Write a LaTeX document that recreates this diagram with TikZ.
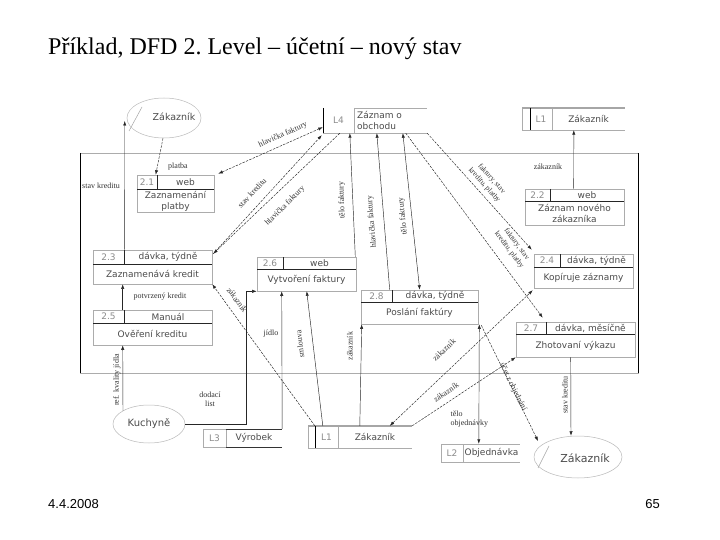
\documentclass[tikz,border=0pt]{standalone}
\usepackage{fontspec}
\setmainfont{Liberation Serif}
\newfontfamily\boxfont{DejaVu Sans}
\newfontfamily\footfont{Liberation Sans}
\usetikzlibrary{arrows.meta,calc,fit,shapes.geometric}
\tikzset{
  pbox/.style={draw=gray!65, line width=0.6pt, inner sep=0pt},
  hdline/.style={draw=black!85, line width=0.6pt},
  ptxt/.style={font=\boxfont\fontsize{9}{11}\selectfont, text=black!70, inner sep=0pt, align=center},
  ntxt/.style={font=\boxfont\fontsize{9}{11}\selectfont, text=gray!90, inner sep=0pt},
  lbl/.style={font=\fontsize{8}{9}\selectfont, text=black!80, inner sep=0.5pt, align=center},
  flow/.style={draw=black!85, line width=0.45pt, ->},
  dflow/.style={flow, dash pattern=on 2.5pt off 1.2pt},
  ent/.style={draw=gray!55, line width=0.5pt, ellipse, inner sep=0pt},
  gline/.style={draw=gray!65, line width=0.6pt},
  bar/.style={draw=black, line width=1pt},
}
\newcommand\proc[9]{%
  \node[pbox, fit={(#2,#3) (#4,#6)}] (#1) {};
  \draw[hdline] (#2,#5) -- (#4,#5);
  \draw[hdline] (#7,#3) -- (#7,#5);
  \node[ntxt] (#1num) at ({(#2+#7)/2},{(#3+#5)/2}) {#8};
  \node[ptxt] (#1loc) at ({(#7+#4)/2},{(#3+#5)/2}) {#9};
}
\begin{document}
\begin{tikzpicture}[x=1pt,y=-1pt,>={Latex[length=4.5pt,width=3.2pt]}]
\useasboundingbox (0,0) rectangle (720,540);
\fill[white] (0,0) rectangle (720,540);

% title and footer
\node[anchor=base west, inner sep=0pt, font=\fontsize{24}{28}\selectfont] (title) at (48,55) {Příklad, DFD 2.\ Level – účetní – nový stav};
\node[anchor=base west, inner sep=0pt, font=\footfont\fontsize{13}{15}\selectfont] (fdate) at (48,508) {4.4.2008};
\node[anchor=base east, inner sep=0pt, font=\footfont\fontsize{13}{15}\selectfont] (fpage) at (660,508) {65};

% boundary
\draw[gline] (80,153) rectangle (638,373);
\draw[bar] (80,153) -- (80,373);
\draw[bar] (638,153) -- (638,373);

% processes
\proc{p21}{137}{175}{214}{189}{212}{157}{2.1}{web}
\node[ptxt] (p21b) at (175.5,201) {Zaznamenání\\platby};
\proc{p22}{525}{189}{624}{201}{225}{550}{2.2}{web}
\node[ptxt] (p22b) at (574.5,213) {Záznam nového\\zákazníka};
\proc{p23}{93}{250}{212}{264}{284}{124}{2.3}{dávka, týdně}
\node[ptxt] (p23b) at (152.5,274) {Zaznamenává kredit};
\proc{p24}{534}{254}{633}{267}{288}{560}{2.4}{dávka, týdně}
\node[ptxt] (p24b) at (583.5,277.5) {Kopíruje záznamy};
\proc{p25}{93}{310}{212}{323}{345}{124}{2.5}{Manuál}
\node[ptxt] (p25b) at (152.5,334) {Ověření kreditu};
\proc{p26}{257}{257}{356}{269}{291}{283}{2.6}{web}
\node[ptxt] (p26b) at (306.5,280) {Vytvoření faktury};
\proc{p27}{516}{322}{635}{334}{357}{546}{2.7}{dávka, měsíčně}
\node[ptxt] (p27b) at (575.5,345.5) {Zhotovaní výkazu};
\proc{p28}{361}{290}{478}{302}{324}{392}{2.8}{dávka, týdně}
\node[ptxt] (p28b) at (419.5,313) {Poslání faktúry};

% stores
\node[fit={(323,108) (427,133)}, inner sep=0pt] (s4) {};
\draw[gline] (354,108) -- (427,108);
\draw[gline] (323,133) -- (427,133);
\draw[gline] (354,108) -- (354,133);
\draw[bar] (323,108) -- (323,133);
\node[ntxt] (s4num) at (338.5,120.5) {L4};
\node[ptxt, anchor=west, align=left] (s4txt) at (357,120.5) {Záznam o\\obchodu};

\node[fit={(522,108) (625,130)}, inner sep=0pt] (s1a) {};
\draw[gline] (522,108) -- (522,130);
\draw[gline] (552,108) -- (552,130);
\draw[draw=gray!70, line width=1.2pt] (522,108) -- (625,108);
\draw[gline] (522,130) -- (625,130);
\draw[bar] (530,108) -- (530,130);
\node[ntxt] (s1anum) at (541,119) {L1};
\node[ptxt] (s1atxt) at (588.5,119) {Zákazník};

\node[fit={(308,426) (412,448)}, inner sep=0pt] (s1b) {};
\draw[gline] (308,426) -- (308,448);
\draw[gline] (338,426) -- (338,448);
\draw[draw=gray!70, line width=1.2pt] (308,426) -- (412,426);
\draw[gline] (308,448) -- (412,448);
\draw[bar] (315,426) -- (315,448);
\node[ntxt] (s1bnum) at (326.5,437) {L1};
\node[ptxt] (s1btxt) at (375,437) {Zákazník};

\node[fit={(203,429) (282,447)}, inner sep=0pt] (s3) {};
\draw[gline] (203,429) rectangle (226,447);
\draw[draw=black!80, line width=0.8pt] (226,429) -- (282,429);
\draw[draw=black!80, line width=0.8pt] (226,447) -- (282,447);
\node[ntxt] (s3num) at (214.5,438) {L3};
\node[ptxt] (s3txt) at (254,438) {Výrobek};

\node[fit={(441,444) (520,462)}, inner sep=0pt] (s2) {};
\draw[gline] (441,444) rectangle (463,462);
\draw[gline] (463,444) -- (520,444);
\draw[gline] (463,462) -- (520,462);
\node[ntxt] (s2num) at (452,453) {L2};
\node[ptxt] (s2txt) at (491.5,453) {Objednávka};

% external entities
\node[ent, minimum width=74pt, minimum height=40pt] (z1) at (164,118) {};
\draw[draw=gray!70, line width=0.5pt] (129,131) -- (142,107);
\node[ptxt, font=\boxfont\fontsize{9.5}{11}\selectfont] (z1t) at (174,117) {Zákazník};
\node[ent, minimum width=72pt, minimum height=38pt] (ku) at (149,424) {};
\node[ptxt, font=\boxfont\fontsize{10}{12}\selectfont] (kut) at (149,424) {Kuchyně};
\node[ent, minimum width=88pt, minimum height=42pt] (z2) at (578,457) {};
\draw[draw=gray!70, line width=0.5pt] (538,468) -- (549,446);
\node[ptxt, font=\boxfont\fontsize{11}{13}\selectfont] (z2t) at (585,458) {Zákazník};

% flows
\draw[dflow] ($(z1.south)+(-1,0)$) -- ($(p21.north west)+(19,0)$);
\draw[flow] ($(p23.north west)+(32,0)$) -- ($(z1.west)+(-2,3)$);
\draw[dflow,<->] ($(p21.north east)+(4,-1)$) -- ($(s4.south west)+(0,-6)$);
\draw[dflow] ($(p23.north east)+(1,4)$) -- ($(s4.south west)+(-1,2)$);
\draw[dflow] ($(s4.south west)+(17,0)$) -- ($(p23.north east)+(1,4)$);
\draw[flow] ($(p26.north east)+(-1,0)$) -- ($(s4.south west)+(27,0)$);
\draw[flow] ($(p28.north west)+(29,0)$) -- ($(s4.south west)+(54,0)$);
\draw[flow,<->] ($(s4.south west)+(80,0)$) -- ($(p28.north west)+(59,0)$);
\draw[dflow] (s4.south east) -- ($(p24.north west)+(-2,-4)$);
\draw[dflow] ($(s4.south west)+(83,0)$) -- ($(p27.north west)+(27,-4)$);
\draw[dflow,<->] ($(s1b.north west)+(82,0)$) -- ($(p24.south west)+(-1,2)$);
\draw[dflow] (s1b.north east) -- (p27.south west);
\draw[dflow] ($(s1b.north west)+(7,0)$) -- (p23.south east);
\draw[flow] ($(s1b.north west)+(15,0)$) -- ($(p26.south west)+(50,0)$);
\draw[flow] ($(s1b.north west)+(52,0)$) -- ($(p28.south west)+(1,0)$);
\draw[flow] (s3.north east) -- ($(p26.south west)+(25,0)$);
\draw[flow] (ku.east) -| ($(p26.south west)+(-10,0)$) -- (p26.south west);
\draw[flow] ($(ku.north)+(-26,6)$) -- ($(p25.south west)+(30,0)$);
\draw[flow] ($(p25.north west)+(30,0)$) -- ($(p23.south west)+(30,0)$);
\draw[flow] ($(p22.north west)+(49,0)$) -- ($(s1a.south west)+(52,0)$);
\draw[flow,<->] ($(p28.south east)+(1,0)$) -- ($(s2.north west)+(38,0)$);
\draw[dflow] ($(p28.south east)+(3,1)$) -- ($(z2.center)+(-40,-16)$);
\draw[flow] ($(p27.south west)+(55,0)$) -- ($(z2.north)+(-7,0)$);

% flow labels
\node[lbl] (lplatba) at (178,167) {platba};
\node[lbl] (lstav1) at (101,186) {stav kreditu};
\node[lbl, rotate=24] (lhf1) at (283,135) {hlavička faktury};
\node[lbl, rotate=47] (lsk2) at (252,193) {stav kreditu};
\node[lbl, rotate=45] (lhf2) at (285,206) {hlavička faktury};
\node[lbl, rotate=92] (ltf1) at (342,200) {tělo faktury};
\node[lbl, rotate=95] (lhf3) at (372,222) {hlavička faktury};
\node[lbl, rotate=96] (ltf2) at (403,216) {tělo faktury};
\node[lbl, rotate=-48, font=\fontsize{7.5}{9.5}\selectfont] (lfsk1) at (488,182) {faktury, stav\\kreditu, platby};
\node[lbl, rotate=-53, font=\fontsize{7.5}{9.5}\selectfont] (lfsk2) at (513,247) {faktury, stav\\kreditu, platby};
\node[lbl, rotate=44] (lz1) at (444,350) {zákazník};
\node[lbl, rotate=34] (lz2) at (446,392) {zákazník};
\node[lbl, rotate=-54] (lz3) at (237,300) {zákazník};
\node[lbl, rotate=97] (lsml) at (300,344) {smlouva};
\node[lbl, rotate=90] (lz4) at (350,346) {zákazník};
\node[lbl] (ljidlo) at (271,334) {jídlo};
\node[lbl] (ldl) at (210,399) {dodací\\list};
\node[lbl, rotate=90] (lref) at (117,380) {ref. kvality jídla};
\node[lbl] (lpk) at (160,297) {potvrzený kredit};
\node[lbl] (lz5) at (548,167) {zákazník};
\node[lbl, anchor=west, align=left] (lto) at (450,419) {tělo\\objednávky};
\node[lbl, rotate=-64] (luz) at (513,387) {účet z objednání};
\node[lbl, rotate=90] (lsk3) at (565,395) {stav kreditu};
\end{tikzpicture}
\end{document}
